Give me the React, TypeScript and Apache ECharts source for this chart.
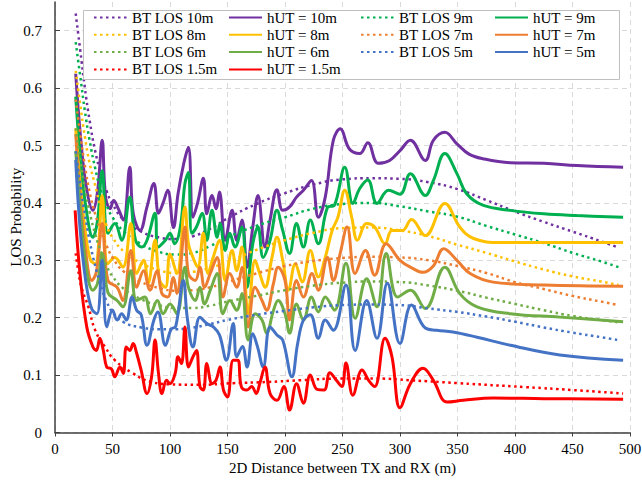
import React, { useEffect, useRef } from "react";
import * as echarts from "echarts";

// ---- Data: [2D distance (m), LOS probability] ----
const hut10: number[][] = [[18,0.625],[22,0.52],[27,0.43],[33,0.387],[37,0.42],[41,0.509],[44,0.41],[48,0.39],[51,0.404],[55,0.39],[59.5,0.37],[65,0.462],[68,0.382],[74,0.352],[80,0.393],[86,0.434],[90,0.382],[94,0.40],[98,0.422],[103,0.357],[107,0.416],[112,0.469],[116,0.497],[120,0.375],[124,0.40],[129,0.443],[132,0.381],[136.6,0.413],[140,0.39],[143,0.419],[148,0.335],[154,0.387],[158,0.335],[162.6,0.37],[167,0.288],[172,0.358],[176.5,0.413],[182.6,0.323],[187,0.37],[193,0.423],[198,0.387],[204,0.393],[210,0.41],[216,0.422],[223,0.439],[229,0.375],[235,0.41],[242,0.509],[248,0.529],[256,0.494],[265,0.486],[272,0.505],[281,0.469],[291,0.474],[300,0.491],[309,0.509],[322,0.474],[329,0.509],[339,0.523],[349.5,0.503],[360,0.485],[372,0.477],[396,0.47],[425,0.469],[454,0.465],[494,0.462]];
const hut9: number[][] = [[18,0.585],[22,0.48],[27,0.39],[33,0.34],[37,0.37],[41,0.456],[46,0.347],[52,0.364],[58,0.335],[65,0.41],[70,0.335],[75.5,0.323],[80,0.335],[87,0.382],[89.5,0.323],[96,0.335],[100,0.347],[104,0.329],[109,0.358],[113,0.434],[116,0.453],[119,0.347],[123,0.358],[128,0.382],[132,0.335],[136.5,0.387],[141,0.34],[143.5,0.364],[148,0.317],[152,0.347],[156.5,0.323],[162.5,0.358],[167,0.253],[172,0.329],[176.5,0.358],[181,0.305],[187,0.335],[193,0.387],[198,0.352],[204,0.312],[210,0.364],[216,0.323],[222,0.37],[229,0.329],[237,0.392],[243,0.396],[252,0.462],[259,0.399],[265,0.425],[272,0.44],[280,0.399],[290,0.422],[300,0.415],[309,0.451],[322,0.413],[329,0.439],[339,0.486],[349.5,0.451],[358,0.416],[372,0.396],[396,0.387],[425,0.381],[454,0.378],[494,0.375]];
const hut8: number[][] = [[18,0.53],[22,0.43],[27,0.34],[31,0.30],[35,0.294],[38,0.33],[41,0.413],[46,0.294],[52,0.305],[59,0.288],[66,0.364],[71,0.277],[77,0.30],[81,0.26],[87,0.335],[91,0.265],[96,0.253],[100,0.311],[106,0.277],[113,0.393],[116,0.329],[120,0.305],[124,0.288],[129,0.347],[133,0.277],[137.5,0.305],[143,0.335],[148,0.265],[154,0.317],[158,0.282],[162.5,0.323],[168,0.207],[174,0.30],[178,0.277],[182.6,0.253],[188.7,0.305],[193,0.34],[198,0.30],[203,0.248],[209,0.294],[215,0.262],[222,0.317],[229,0.271],[235,0.305],[241,0.352],[246,0.375],[252,0.422],[258,0.375],[263,0.335],[271,0.364],[278,0.358],[287,0.329],[293,0.352],[302,0.352],[310,0.371],[322,0.343],[339,0.399],[352,0.358],[364,0.338],[387,0.331],[440,0.331],[494,0.331]];
const hut7: number[][] = [[18,0.52],[22,0.41],[27,0.31],[32,0.265],[36,0.28],[41,0.364],[46,0.265],[54,0.253],[59,0.23],[66,0.317],[71,0.253],[77,0.282],[82.6,0.248],[88.7,0.282],[93,0.242],[98,0.236],[103,0.27],[106,0.242],[113,0.358],[116,0.277],[122,0.265],[126,0.288],[130,0.253],[135,0.277],[141,0.305],[146,0.236],[152,0.277],[158,0.253],[162.6,0.288],[168,0.184],[174,0.253],[180,0.23],[184,0.213],[190,0.26],[194,0.288],[200,0.265],[204,0.196],[210,0.265],[216,0.236],[223.5,0.277],[229,0.248],[237,0.305],[242,0.265],[248,0.312],[254,0.358],[261,0.277],[270,0.317],[278,0.274],[288,0.329],[300,0.30],[311,0.286],[320,0.279],[329,0.29],[338,0.32],[349.5,0.30],[361,0.277],[381,0.262],[425,0.257],[494,0.255]];
const hut6: number[][] = [[18,0.49],[22,0.39],[27,0.29],[33,0.248],[37,0.26],[41,0.312],[46,0.244],[54,0.23],[59,0.219],[66,0.282],[71,0.23],[78,0.236],[83,0.207],[89,0.23],[94,0.207],[100,0.224],[106,0.207],[113,0.288],[116,0.253],[122,0.23],[126,0.253],[130,0.224],[135,0.248],[141,0.277],[146,0.207],[152,0.23],[158,0.213],[162.6,0.242],[168,0.161],[174,0.207],[180,0.196],[184,0.173],[190,0.213],[194,0.23],[200,0.207],[204,0.173],[210,0.224],[216,0.196],[223,0.236],[229,0.21],[235,0.236],[243,0.213],[253,0.295],[261,0.199],[271,0.268],[280,0.219],[288,0.312],[298,0.236],[309,0.248],[322,0.216],[339,0.288],[352,0.242],[367,0.219],[396,0.207],[439,0.201],[494,0.193]];
const hut5: number[][] = [[18,0.475],[22,0.35],[27,0.26],[32,0.215],[36.5,0.207],[41,0.30],[45,0.184],[50,0.213],[54,0.196],[58,0.207],[62,0.196],[67,0.236],[71,0.213],[75,0.205],[80,0.152],[86,0.196],[89.5,0.21],[96,0.152],[101,0.18],[105,0.185],[111.6,0.265],[115,0.2],[120,0.149],[126,0.201],[132,0.19],[137.7,0.184],[143,0.17],[149,0.126],[155,0.19],[158,0.132],[163,0.15],[167,0.114],[172,0.172],[176,0.15],[181,0.114],[187,0.184],[193,0.17],[198,0.161],[206,0.097],[211,0.155],[216,0.196],[222,0.205],[229,0.164],[235,0.196],[242,0.178],[253,0.257],[261,0.143],[271,0.23],[280,0.164],[289,0.26],[300,0.155],[310,0.222],[322,0.182],[332,0.178],[346,0.175],[367,0.166],[396,0.152],[439,0.135],[494,0.126]];
const hut15: number[][] = [[17.5,0.387],[21.7,0.277],[27.6,0.184],[33,0.149],[36,0.143],[39,0.164],[42,0.143],[45,0.114],[49,0.111],[52,0.097],[56.5,0.114],[59.4,0.103],[62,0.149],[65,0.143],[68,0.155],[71,0.138],[75,0.108],[80,0.068],[84,0.097],[87,0.161],[90,0.103],[93,0.068],[97,0.091],[100,0.085],[104.5,0.103],[107,0.132],[110,0.12],[113,0.184],[116,0.114],[120,0.132],[123,0.143],[126,0.08],[129,0.074],[132,0.12],[136.6,0.085],[140,0.091],[143.5,0.114],[146.5,0.074],[150,0.062],[155,0.126],[159,0.126],[162,0.08],[167,0.074],[171,0.08],[175,0.068],[178,0.085],[182.6,0.114],[187,0.068],[193,0.056],[199,0.08],[204,0.039],[210,0.085],[216,0.051],[222,0.1],[228,0.075],[234,0.074],[239,0.104],[245,0.09],[249.5,0.08],[253,0.121],[259,0.065],[267,0.109],[273,0.09],[278,0.08],[287,0.164],[293,0.132],[300,0.043],[309,0.085],[320,0.112],[329,0.091],[341,0.053],[355,0.056],[381,0.06],[425,0.059],[494,0.058]];

const bt10: number[][] = [[18,0.73],[22,0.665],[26,0.6],[30,0.545],[35,0.49],[40,0.45],[45,0.42],[50,0.398],[60,0.37],[75,0.35],[90,0.34],[105,0.337],[120,0.342],[135,0.355],[150,0.373],[175,0.398],[200,0.417],[225,0.432],[250,0.441],[275,0.443],[300,0.442],[325,0.436],[350,0.424],[375,0.405],[400,0.385],[425,0.367],[450,0.35],[475,0.333],[490,0.322]];
const bt9: number[][] = [[18,0.68],[22,0.62],[26,0.56],[30,0.51],[35,0.46],[40,0.42],[45,0.395],[50,0.375],[60,0.35],[75,0.328],[90,0.315],[105,0.31],[120,0.313],[135,0.325],[150,0.34],[175,0.36],[200,0.375],[225,0.39],[250,0.398],[275,0.4],[300,0.394],[325,0.385],[350,0.376],[375,0.36],[400,0.345],[425,0.33],[450,0.313],[475,0.298],[490,0.288]];
const bt8: number[][] = [[18,0.63],[22,0.57],[26,0.515],[30,0.47],[35,0.43],[40,0.39],[45,0.36],[50,0.34],[60,0.315],[75,0.295],[90,0.283],[105,0.278],[120,0.28],[135,0.287],[150,0.297],[175,0.318],[200,0.335],[225,0.348],[250,0.356],[275,0.357],[300,0.352],[325,0.342],[350,0.327],[375,0.313],[400,0.298],[425,0.284],[450,0.272],[475,0.263],[490,0.257]];
const bt7: number[][] = [[18,0.58],[22,0.52],[26,0.465],[30,0.42],[35,0.38],[40,0.35],[45,0.325],[50,0.305],[60,0.28],[75,0.262],[90,0.252],[105,0.247],[120,0.248],[135,0.253],[150,0.262],[175,0.277],[200,0.29],[225,0.299],[250,0.304],[275,0.306],[300,0.305],[325,0.3],[350,0.29],[375,0.278],[400,0.262],[425,0.25],[450,0.238],[475,0.228],[490,0.222]];
const bt6: number[][] = [[18,0.53],[22,0.475],[26,0.425],[30,0.385],[35,0.345],[40,0.315],[45,0.29],[50,0.272],[60,0.25],[75,0.232],[90,0.222],[105,0.217],[120,0.217],[135,0.221],[150,0.228],[175,0.238],[200,0.248],[225,0.256],[250,0.261],[275,0.263],[300,0.262],[325,0.256],[350,0.247],[375,0.235],[400,0.224],[425,0.213],[450,0.203],[475,0.196],[490,0.192]];
const bt5: number[][] = [[18,0.49],[22,0.43],[26,0.38],[30,0.335],[35,0.29],[40,0.255],[45,0.228],[50,0.21],[60,0.192],[75,0.183],[90,0.18],[105,0.18],[120,0.183],[135,0.189],[150,0.196],[175,0.205],[200,0.212],[225,0.218],[250,0.222],[275,0.223],[300,0.222],[325,0.216],[350,0.21],[375,0.202],[400,0.193],[425,0.183],[450,0.174],[475,0.166],[490,0.161]];
const bt15: number[][] = [[18,0.312],[20,0.285],[23,0.253],[29,0.219],[35,0.178],[43.5,0.149],[52,0.126],[67,0.104],[84,0.088],[100,0.084],[125,0.083],[155,0.086],[185,0.088],[213,0.091],[250,0.094],[280,0.094],[309,0.091],[350,0.086],[410,0.079],[450,0.074],[494,0.068]];

const xTickStep = 50;
const yTickStep = 0.1;

const FONT = "'Liberation Serif', 'Times New Roman', serif";

const C = {
  h10: "#7030A0",
  h9: "#00B050",
  h8: "#FFC000",
  h7: "#ED7D31",
  h6: "#70AD47",
  h5: "#4472C4",
  h15: "#FF0000",
};

function mk(name: string, data: number[][], color: string, dotted: boolean) {
  return {
    type: "line",
    name,
    data,
    smooth: dotted ? true : 0.4,
    symbol: "none",
    showSymbol: false,
    clip: true,
    lineStyle: dotted
      ? { color, width: 2.5, type: [2.5, 3.5], cap: "butt" }
      : { color, width: 3 },
    itemStyle: { color },
    emphasis: { disabled: true },
  };
}

export default function App() {
  const ref = useRef<HTMLDivElement>(null);
  useEffect(() => {
    if (!ref.current) return;
    const chart = echarts.init(ref.current, undefined, { renderer: "svg" });
    const legendCommon = {
      orient: "vertical",
      top: 10,
      padding: 0,
      itemWidth: 33,
      itemHeight: 12,
      itemGap: 2.3,
      selectedMode: false,
      z: 100,
      itemStyle: { color: "rgba(0,0,0,0)", opacity: 0, borderWidth: 0 },
      textStyle: { fontFamily: FONT, fontSize: 15, color: "#000" },
    };
    chart.setOption({
      animation: false,
      backgroundColor: "#fff",
      grid: {
        left: 55,
        right: 12,
        top: 2,
        bottom: 49.5,
        containLabel: false,
        outerBoundsMode: "none",
      },
      xAxis: {
        type: "value",
        min: 0,
        max: 500,
        interval: xTickStep,
        name: "2D Distance between TX and RX (m)",
        nameLocation: "middle",
        nameGap: 28,
        nameMoveOverlap: false,
        nameTextStyle: { fontFamily: FONT, fontSize: 15, color: "#000" },
        axisLine: { show: true, onZero: false, lineStyle: { color: "#404040", width: 1.5 } },
        axisTick: { show: true, length: 4, lineStyle: { color: "#404040" } },
        axisLabel: { fontFamily: FONT, fontSize: 15, color: "#000", margin: 9 },
        splitLine: { show: true, lineStyle: { color: "#d9d9d9", type: [5, 4], width: 1 } },
      },
      yAxis: {
        type: "value",
        min: 0,
        max: 0.75,
        interval: yTickStep,
        name: "LOS Probability",
        nameLocation: "middle",
        nameGap: 32,
        nameMoveOverlap: false,
        nameTextStyle: { fontFamily: FONT, fontSize: 15, color: "#000" },
        axisLine: { show: true, lineStyle: { color: "#404040", width: 1.5 } },
        axisTick: { show: true, inside: true, length: 5, lineStyle: { color: "#404040" } },
        axisLabel: {
          fontFamily: FONT,
          fontSize: 15,
          color: "#000",
          margin: 13,
          showMaxLabel: false,
          formatter: (v: number) => (v > 0.71 ? "" : String(parseFloat(v.toFixed(2)))),
        },
        splitLine: { show: true, showMaxLine: false, lineStyle: { color: "#d9d9d9", type: [5, 4], width: 1 } },
      },
      legend: [
        { ...legendCommon, left: 93, data: ["BT LOS 10m", "BT LOS 8m", "BT LOS 6m", "BT LOS 1.5m"] },
        { ...legendCommon, left: 228, data: ["hUT = 10m", "hUT = 8m", "hUT = 6m", "hUT = 1.5m"] },
        { ...legendCommon, left: 360, data: ["BT LOS 9m", "BT LOS 7m", "BT LOS 5m"] },
        { ...legendCommon, left: 494, data: ["hUT = 9m", "hUT = 7m", "hUT = 5m"] },
      ],
      graphic: [
        {
          type: "rect",
          z: 90,
          shape: { x: 83.5, y: 10.5, width: 536, height: 69 },
          style: { fill: "#fff", stroke: "#bfbfbf", lineWidth: 1 },
        },
      ],
      series: [
        mk("BT LOS 10m", bt10, C.h10, true),
        mk("hUT = 10m", hut10, C.h10, false),
        mk("BT LOS 9m", bt9, C.h9, true),
        mk("hUT = 9m", hut9, C.h9, false),
        mk("BT LOS 8m", bt8, C.h8, true),
        mk("hUT = 8m", hut8, C.h8, false),
        mk("BT LOS 7m", bt7, C.h7, true),
        mk("hUT = 7m", hut7, C.h7, false),
        mk("BT LOS 6m", bt6, C.h6, true),
        mk("hUT = 6m", hut6, C.h6, false),
        mk("BT LOS 5m", bt5, C.h5, true),
        mk("hUT = 5m", hut5, C.h5, false),
        mk("BT LOS 1.5m", bt15, C.h15, true),
        mk("hUT = 1.5m", hut15, C.h15, false),
      ],
    });
    return () => chart.dispose();
  }, []);
  return (
    <div
      ref={ref}
      style={{ position: "fixed", left: 0, top: 0, width: 642, height: 482 }}
    />
  );
}
